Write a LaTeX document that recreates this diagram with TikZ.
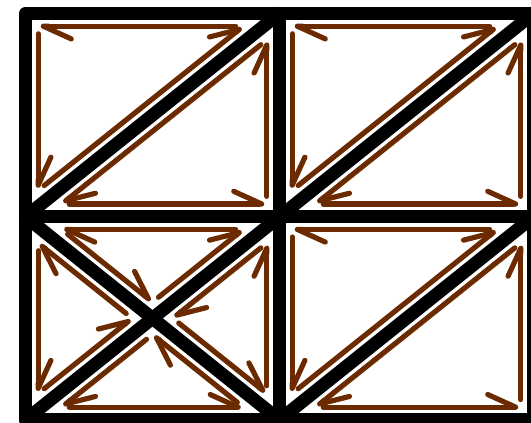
\documentclass[tikz,border=0pt]{standalone}
\usetikzlibrary{arrows.meta, calc}
\definecolor{rust}{HTML}{6B2A00}

% gap between a black edge and its half-edge
\newcommand{\inset}{0.25}
% half-edges of a counter-clockwise triangle, pulled in towards its incentre
\newcommand{\halfedges}[6]{%
  \pgfmathsetmacro{\lenA}{veclen(#3-#5,#4-#6)}%
  \pgfmathsetmacro{\lenB}{veclen(#1-#5,#2-#6)}%
  \pgfmathsetmacro{\lenC}{veclen(#1-#3,#2-#4)}%
  \pgfmathsetmacro{\peri}{\lenA+\lenB+\lenC}%
  \pgfmathsetmacro{\inx}{(\lenA*#1+\lenB*#3+\lenC*#5)/\peri}%
  \pgfmathsetmacro{\iny}{(\lenA*#2+\lenB*#4+\lenC*#6)/\peri}%
  \pgfmathsetmacro{\inr}{abs((#3-#1)*(#6-#2)-(#5-#1)*(#4-#2))/\peri}%
  \pgfmathsetmacro{\shrink}{1-\inset/\inr}%
  \coordinate (inc) at (\inx,\iny);
  \coordinate (p1) at ($(inc)!\shrink!(#1,#2)$);
  \coordinate (p2) at ($(inc)!\shrink!(#3,#4)$);
  \coordinate (p3) at ($(inc)!\shrink!(#5,#6)$);
  \draw[half] (p1) -- (p2);
  \draw[half] (p2) -- (p3);
  \draw[half] (p3) -- (p1);
}

\begin{document}
\begin{tikzpicture}[
    edge/.style={line width=7.3pt, line join=round, line cap=round},
    half/.style={rust, line width=2.9pt, line cap=round,
      -{Straight Barb[left, length=0.55cm, width=0.5cm, round]},
      shorten <=0.15cm, shorten >=0.05cm}
]
\useasboundingbox (-0.502,-0.049) rectangle (9.951,8.266);
\clip (-0.502,-0.049) rectangle (9.951,8.266);

% Grid points
\coordinate (bl) at (0,0);
\coordinate (bm) at (5,0);
\coordinate (br) at (10,0);
\coordinate (ml) at (0,4);
\coordinate (mm) at (5,4);
\coordinate (mr) at (10,4);
\coordinate (tl) at (0,8);
\coordinate (tm) at (5,8);
\coordinate (tr) at (10,8);

% Mesh
\draw[edge] (bl) rectangle (tr);
\draw[edge] (bm) -- (tm);
\draw[edge] (ml) -- (mr);
\draw[edge] (ml) -- (tm);
\draw[edge] (mm) -- (tr);
\draw[edge] (bm) -- (mr);
\draw[edge] (bl) -- (mm);
\draw[edge] (ml) -- (bm);

% Half-edges, split cells
\foreach \x/\y in {0/4, 5/4, 5/0} {
  \pgfmathsetmacro{\xr}{\x+5}
  \pgfmathsetmacro{\yt}{\y+4}
  \halfedges{\xr}{\yt}{\x}{\yt}{\x}{\y}
  \halfedges{\xr}{\yt}{\x}{\y}{\xr}{\y}
}

% Half-edges, crossed cell
\halfedges{5}{4}{0}{4}{2.5}{2}
\halfedges{0}{4}{0}{0}{2.5}{2}
\halfedges{0}{0}{5}{0}{2.5}{2}
\halfedges{5}{0}{5}{4}{2.5}{2}

\end{tikzpicture}
\end{document}
